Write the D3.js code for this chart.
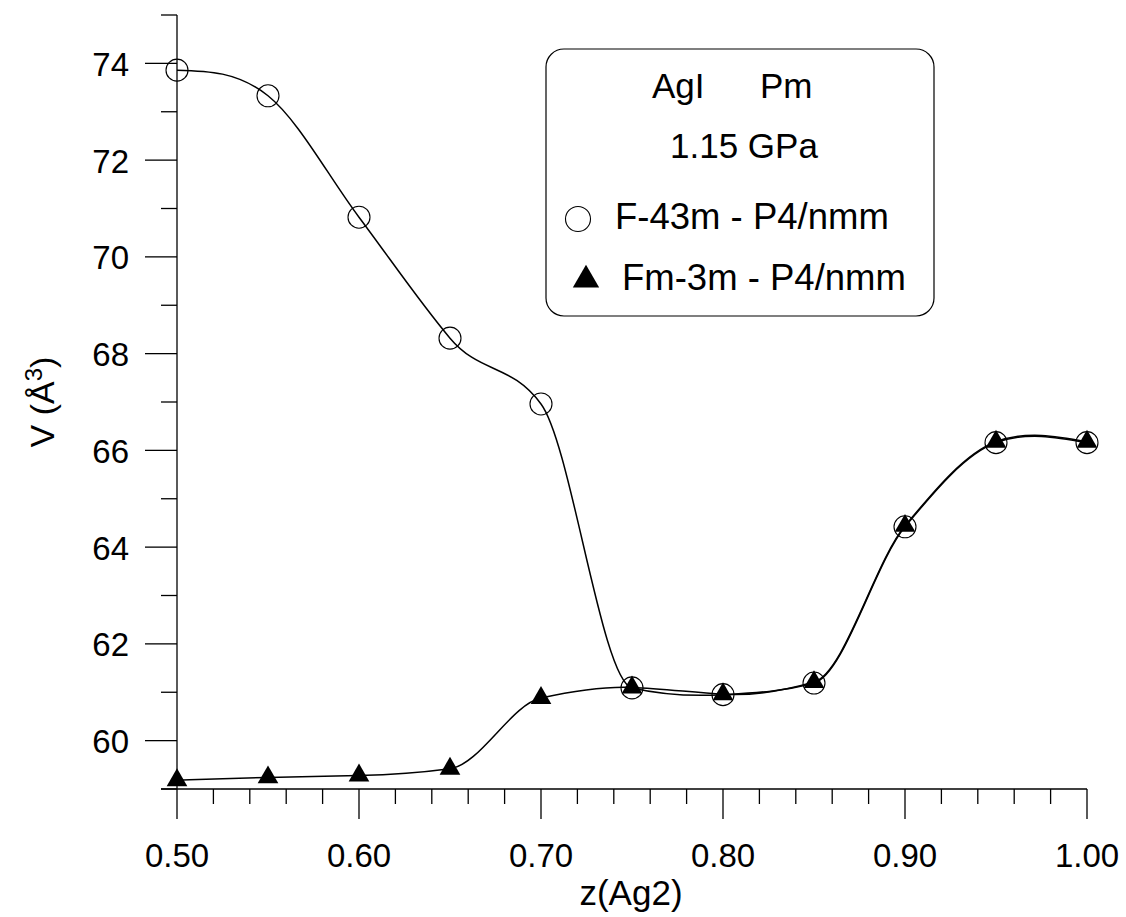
<!DOCTYPE html>
<html><head><meta charset="utf-8">
<script src="https://cdn.jsdelivr.net/npm/d3@7"></script>
<style>html,body{margin:0;padding:0;background:#fff}svg{display:block}text{font-family:"Liberation Sans",Arial,sans-serif;fill:#000}</style>
</head><body>
<svg id="chart" width="1126" height="917"></svg>
<script>
const zValues = [0.50, 0.55, 0.60, 0.65, 0.70, 0.75, 0.80, 0.85, 0.90, 0.95, 1.00];
const vF43m = [73.86, 73.33, 70.82, 68.32, 66.96, 61.09, 60.95, 61.19, 64.42, 66.16, 66.16];
const vFm3m = [59.18, 59.24, 59.28, 59.42, 60.88, 61.10, 60.96, 61.21, 64.44, 66.18, 66.18];
const xMajorTicks = [0.5, 0.6, 0.7, 0.8, 0.9, 1.0];
const xMinorTicks = [0.52,0.54,0.56,0.58,0.62,0.64,0.66,0.68,0.72,0.74,0.76,0.78,0.82,0.84,0.86,0.88,0.92,0.94,0.96,0.98];
const yMajorTicks = [60, 62, 64, 66, 68, 70, 72, 74];
const yMinorTicks = [59, 61, 63, 65, 67, 69, 71, 73, 75];
const legendTitle = ["AgI", "Pm"];
const legendPressure = "1.15 GPa";
const seriesNames = ["F-43m - P4/nmm", "Fm-3m - P4/nmm"];

const svg = d3.select("#chart");
const x = d3.scaleLinear().domain([0.5, 1.0]).range([177, 1087]);
const y = d3.scaleLinear().domain([59, 75]).range([789, 15]);

// modified-Akima spline as a D3 curve factory (quadratic end conditions)
function Makima(context){ this._context = context; }
Makima.prototype = {
  areaStart(){ this._line = 0; }, areaEnd(){ this._line = NaN; },
  lineStart(){ this._xs = []; this._ys = []; },
  point(px, py){ this._xs.push(+px); this._ys.push(+py); },
  lineEnd(){
    const X = this._xs, Y = this._ys, n = X.length, c = this._context;
    if (!n) return;
    c.moveTo(X[0], Y[0]);
    if (n < 3) { for (let i=1;i<n;i++) c.lineTo(X[i],Y[i]); return; }
    const m = {};
    for (let i=0;i<n-1;i++) m[i] = (Y[i+1]-Y[i])/(X[i+1]-X[i]);
    m[-1] = 2*m[0]-m[1]; m[-2] = 2*m[-1]-m[0];
    m[n-1] = 2*m[n-2]-m[n-3]; m[n] = 2*m[n-1]-m[n-2];
    const t = [];
    for (let i=0;i<n;i++){
      const w1 = Math.abs(m[i+1]-m[i]) + Math.abs(m[i+1]+m[i])/2;
      const w2 = Math.abs(m[i-1]-m[i-2]) + Math.abs(m[i-1]+m[i-2])/2;
      t[i] = (w1+w2) < 1e-12 ? (m[i-1]+m[i])/2 : (w1*m[i-1] + w2*m[i])/(w1+w2);
    }
    t[0] = (3*m[0] - t[1])/2;
    t[n-1] = (3*m[n-2] - t[n-2])/2;
    for (let i=0;i<n-1;i++){
      const h = (X[i+1]-X[i])/3;
      c.bezierCurveTo(X[i]+h, Y[i]+t[i]*h, X[i+1]-h, Y[i+1]-t[i+1]*h, X[i+1], Y[i+1]);
    }
  }
};
const curveMakima = ctx => new Makima(ctx);

// Axes
const ax = svg.append("g").attr("stroke","#000").attr("stroke-width",1.3).attr("fill","none");
ax.append("line").attr("x1",x(0.5)).attr("x2",x(0.5)).attr("y1",y(75)).attr("y2",y(59));
ax.append("line").attr("x1",x(0.5)-16).attr("x2",x(1.0)).attr("y1",y(59)).attr("y2",y(59));
ax.selectAll(".ymaj").data(yMajorTicks).enter().append("line")
  .attr("x1",x(0.5)-32).attr("x2",x(0.5)).attr("y1",d=>y(d)).attr("y2",d=>y(d));
ax.selectAll(".ymin").data(yMinorTicks).enter().append("line")
  .attr("x1",x(0.5)-16).attr("x2",x(0.5)).attr("y1",d=>y(d)).attr("y2",d=>y(d));
ax.selectAll(".xmaj").data(xMajorTicks).enter().append("line")
  .attr("x1",d=>x(d)).attr("x2",d=>x(d)).attr("y1",y(59)).attr("y2",y(59)+30);
ax.selectAll(".xmin").data(xMinorTicks).enter().append("line")
  .attr("x1",d=>x(d)).attr("x2",d=>x(d)).attr("y1",y(59)).attr("y2",y(59)+15);

svg.selectAll(".ylab").data(yMajorTicks).enter().append("text")
  .attr("x",129).attr("y",d=>y(d)+12.5).attr("text-anchor","end")
  .style("font-size","33px").text(d=>d);
svg.selectAll(".xlab").data(xMajorTicks).enter().append("text")
  .attr("x",d=>x(d)).attr("y",867).attr("text-anchor","middle")
  .style("font-size","33px").text(d=>d3.format(".2f")(d));

svg.append("text").attr("x",631).attr("y",905).attr("text-anchor","middle")
  .style("font-size","35px").text("z(Ag2)");
const yt = svg.append("text").attr("transform","translate(54,402) rotate(-90)")
  .attr("text-anchor","middle").style("font-size","34px");
yt.append("tspan").text("V (Å");
yt.append("tspan").attr("dy",-12).style("font-size","24px").text("3");
yt.append("tspan").attr("dy",12).text(")");

// Curves
const dataF = zValues.map((z,i)=>({z, v:vF43m[i]}));
const dataT = zValues.map((z,i)=>({z, v:vFm3m[i]}));
const line = d3.line().x(d=>x(d.z)).y(d=>y(d.v)).curve(curveMakima);
svg.append("path").datum(dataF).attr("d",line).attr("fill","none").attr("stroke","#000").attr("stroke-width",1.5);
svg.append("path").datum(dataT).attr("d",line).attr("fill","none").attr("stroke","#000").attr("stroke-width",1.5);

// Markers
svg.selectAll(".circ").data(dataF).enter().append("circle")
  .attr("cx",d=>x(d.z)).attr("cy",d=>y(d.v)).attr("r",11)
  .attr("fill","none").attr("stroke","#000").attr("stroke-width",1.1);
const tri = d3.symbol().type(d3.symbolTriangle).size(185);
svg.selectAll(".tri").data(dataT).enter().append("path")
  .attr("transform",d=>`translate(${x(d.z)},${y(d.v)})`).attr("d",tri).attr("fill","#000");

// Legend
const lg = svg.append("g");
lg.append("rect").attr("x",546).attr("y",49).attr("width",388).attr("height",267).attr("rx",18)
  .attr("fill","#fff").attr("stroke","#000").attr("stroke-width",1.2);
lg.append("text").attr("x",652).attr("y",98).style("font-size","35px").text(legendTitle[0]);
lg.append("text").attr("x",760).attr("y",98).style("font-size","35px").text(legendTitle[1]);
lg.append("text").attr("x",670).attr("y",158).style("font-size","35px").text(legendPressure);
lg.append("circle").attr("cx",578).attr("cy",219).attr("r",12.5).attr("fill","none").attr("stroke","#000").attr("stroke-width",1.1);
lg.append("text").attr("x",615).attr("y",229).style("font-size","36.5px").text(seriesNames[0]);
lg.append("path").attr("transform","translate(586,280)").attr("d",d3.symbol().type(d3.symbolTriangle).size(300)()).attr("fill","#000");
lg.append("text").attr("x",622).attr("y",290).style("font-size","36.5px").text(seriesNames[1]);
</script>
</body></html>
